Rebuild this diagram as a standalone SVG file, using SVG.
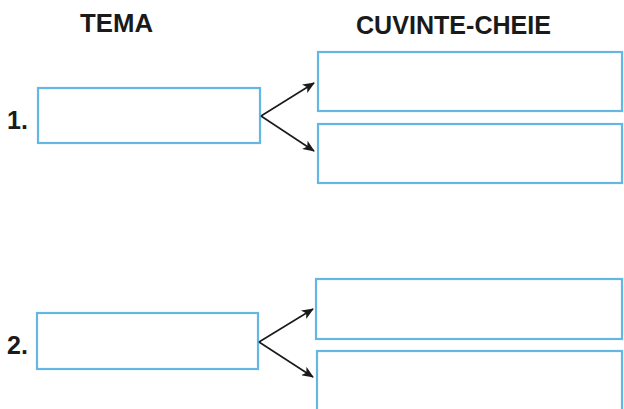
<svg xmlns="http://www.w3.org/2000/svg" width="624" height="409" viewBox="0 0 624 409">
<style>
.box{fill:#fff;stroke:#64b6e3;stroke-width:2.2}
.hdr{font-family:"Liberation Sans",Arial,sans-serif;font-weight:bold;font-size:25px;fill:#1a1a1a}
.num{font-family:"Liberation Sans",Arial,sans-serif;font-weight:bold;font-size:25px;fill:#1a1a1a}
.con{stroke:#1a1a1a;stroke-width:1.6;fill:none;marker-end:url(#ah)}
</style>
<defs>
<marker id="ah" markerWidth="12" markerHeight="10" refX="11" refY="5" orient="auto" markerUnits="userSpaceOnUse">
<path d="M0,0 L12,5 L0,10 L3,5 Z" fill="#1a1a1a"/>
</marker>
</defs>
<rect width="624" height="409" fill="#fff"/>
<text class="hdr" x="80" y="32" textLength="73" lengthAdjust="spacingAndGlyphs">TEMA</text>
<text class="hdr" x="356" y="34" textLength="195" lengthAdjust="spacingAndGlyphs">CUVINTE-CHEIE</text>
<g id="n1-tema">
<text class="num" x="7" y="129">1.</text>
<rect class="box" x="38" y="88" width="222" height="55"/>
</g>
<g id="n1-k1"><rect class="box" x="318" y="52" width="304" height="59"/></g>
<g id="n1-k2"><rect class="box" x="318" y="124" width="304" height="59"/></g>
<g id="n2-tema">
<text class="num" x="7" y="354">2.</text>
<rect class="box" x="37" y="313" width="221" height="56"/>
</g>
<g id="n2-k1"><rect class="box" x="316" y="279" width="306" height="60"/></g>
<g id="n2-k2"><rect class="box" x="317" y="351" width="305" height="62"/></g>
<g id="connectors">
<line class="con" x1="261" y1="116" x2="314" y2="83"/>
<line class="con" x1="261" y1="116" x2="314" y2="151"/>
<line class="con" x1="259" y1="342" x2="313" y2="309"/>
<line class="con" x1="259" y1="342" x2="313" y2="377"/>
</g>
</svg>
